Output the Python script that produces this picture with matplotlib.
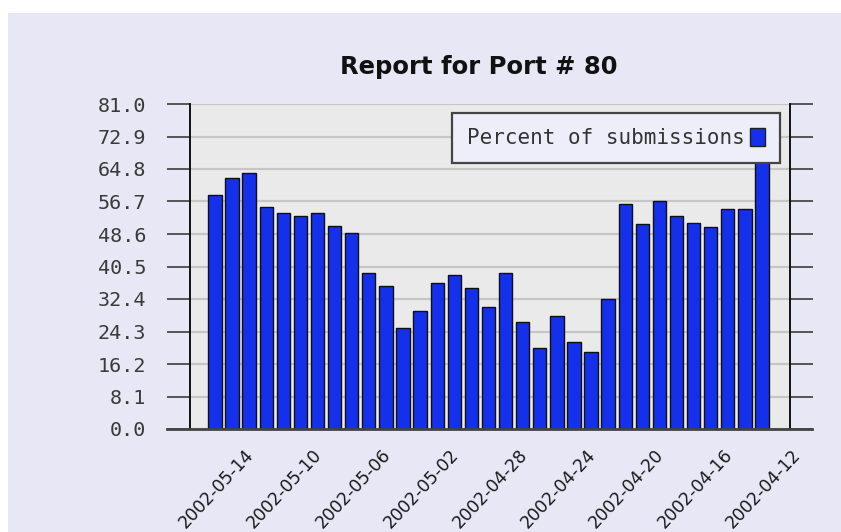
import matplotlib.pyplot as plt
from matplotlib.patches import Patch, Rectangle
from matplotlib.lines import Line2D
import pandas as pd

# percent of submissions per day, newest first (2002-05-16 back to 2002-04-14)
first_day = '2002-05-16'
percent = [58.3, 62.6, 63.7, 55.3, 53.8, 53.1, 53.8, 50.6, 48.8, 39.0,
           35.6, 25.1, 29.4, 36.3, 38.4, 35.1, 30.3, 39.0, 26.7, 20.3,
           28.2, 21.8, 19.1, 32.5, 56.2, 51.1, 56.9, 53.1, 51.4, 50.4,
           54.8, 54.8, 70.0]

# date labels shown under the axis
tick_labels = ['2002-05-14', '2002-05-10', '2002-05-06', '2002-05-02',
               '2002-04-28', '2002-04-24', '2002-04-20', '2002-04-16',
               '2002-04-12']
y_ticks = [0.0, 8.1, 16.2, 24.3, 32.4, 40.5, 48.6, 56.7, 64.8, 72.9, 81.0]

bar_blue = '#1430ea'
bg_lav = '#e7e7f5'

fig = plt.figure(figsize=(8.41, 5.32), dpi=100)
fig.patch.set_facecolor('white')
fig.patches.append(Rectangle((8 / 841, 0), 1, 1 - 13 / 532, transform=fig.transFigure,
                             facecolor=bg_lav, edgecolor='none', zorder=-10))

ax = fig.add_axes([190 / 841, 103 / 532, 600 / 841, 325 / 532])
ax.set_facecolor('#eaeaea')

x = list(range(len(percent)))
ax.bar(x, percent, width=0.78, color=bar_blue, edgecolor='#101010', linewidth=1.0, zorder=3)

ax.set_xlim(-1.46, 33.64)
ax.set_ylim(0, 81)
ax.set_yticks(y_ticks)
ax.set_yticklabels([f'{v:.1f}' for v in y_ticks], fontfamily='DejaVu Sans Mono',
                   fontsize=14.5, color='#3a3a3a')
ax.yaxis.grid(True, color='#c6c6c6', linewidth=1.6, zorder=0)
ax.set_axisbelow(True)
ax.tick_params(axis='y', which='both', left=True, right=True, direction='out',
               length=16.5, width=1.4, color='#555555', pad=15)
ax.set_xticks([])

for s in ['top', 'bottom']:
    ax.spines[s].set_visible(False)
for s in ['left', 'right']:
    ax.spines[s].set_color('#111111')
    ax.spines[s].set_linewidth(1.4)

# bottom axis line sticks out past both sides
ax.add_line(Line2D([-0.038, 1.037], [0, 0], transform=ax.transAxes, color='#444444',
                   linewidth=2, clip_on=False, zorder=5))

# rotated date labels (the last one sits past the final bar)
t0 = pd.Timestamp(first_day)
for lbl in tick_labels:
    pos = (t0 - pd.Timestamp(lbl)).days
    ax.text(pos + 0.1, -0.07, lbl, transform=ax.get_xaxis_transform(), rotation=47,
            ha='right', va='center', rotation_mode='anchor', fontsize=12.5,
            color='#1a1a1a', clip_on=False)

leg = ax.legend(handles=[Patch(facecolor=bar_blue, edgecolor='#202020')],
                labels=['Percent of submissions'], markerfirst=False,
                loc='upper right', bbox_to_anchor=(0.983, 0.972), borderaxespad=0,
                prop={'family': 'DejaVu Sans Mono', 'size': 15},
                fancybox=False, framealpha=1, borderpad=0.72,
                handlelength=0.7, handleheight=0.9, handletextpad=0.25)
leg.get_frame().set_edgecolor('#444444')
leg.get_frame().set_facecolor('#eeeefb')
leg.get_frame().set_linewidth(1.6)
leg.set_zorder(10)
for t in leg.get_texts():
    t.set_color('#333333')

fig.text(479 / 841, 1 - 67 / 532, 'Report for Port # 80', ha='center', va='center',
         fontsize=17.5, fontweight='bold', color='#111111')

fig.savefig('out.png', dpi=100, facecolor=fig.get_facecolor())
